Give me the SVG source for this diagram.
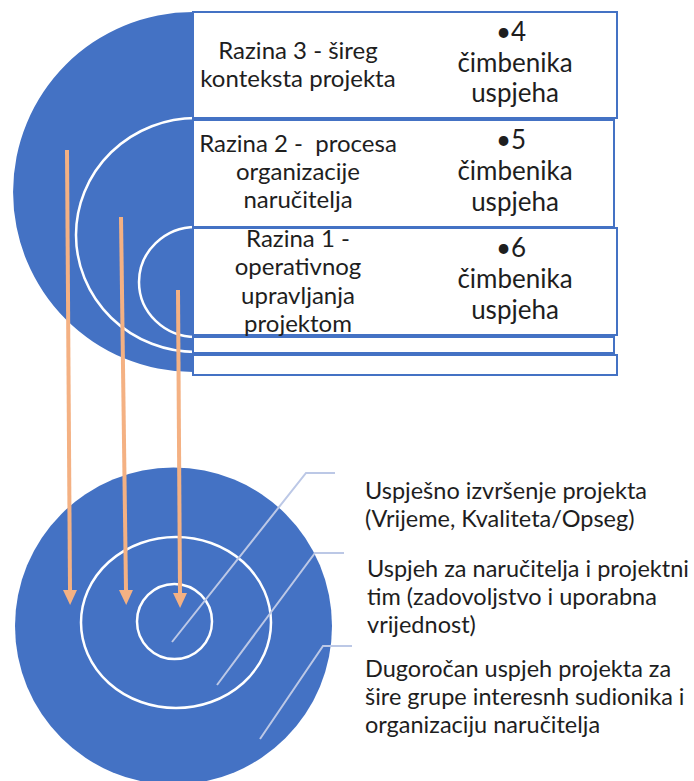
<svg xmlns="http://www.w3.org/2000/svg" width="694" height="781" viewBox="0 0 694 781">
  <style>
    .blue { fill: #4472C4; }
    .ring { fill: none; stroke: #FFFFFF; stroke-width: 2.5; }
    .box { fill: #FFFFFF; stroke: #4472C4; stroke-width: 2; }
    .t { font-family: Lato, "Open Sans", "Liberation Sans", sans-serif; fill: #1E1E1E; }
    .lc { font-size: 24px; text-anchor: middle; }
    .rc { font-size: 26px; text-anchor: middle; }
    .lab { font-size: 23.5px; }
    .arrow { stroke: #F4B183; stroke-width: 4; fill: none; marker-end: url(#ah); }
    .lead { stroke: #BCC8E6; stroke-width: 2; fill: none; }
  </style>
  <defs>
    <marker id="ah" markerUnits="userSpaceOnUse" markerWidth="15" markerHeight="14" refX="0" refY="7" orient="auto" viewBox="0 0 15 14">
      <path d="M0,0 L15,7 L0,14 Z" fill="#F4B183"/>
    </marker>
  </defs>
  <rect width="694" height="781" fill="#FFFFFF"/>

  <g id="top-rings">
    <path class="blue" d="M193,12 A180,180 0 0 0 193,372 Z"/>
    <path class="ring" d="M196,118 A120,117 0 0 0 196,352"/>
    <path class="ring" d="M196,227 A57,55 0 0 0 196,337"/>
  </g>

  <g id="row3">
    <rect class="box" x="193" y="12" width="424" height="106"/>
    <text class="t lc" x="298" y="59">Razina 3 - šireg</text>
    <text class="t lc" x="298" y="87">konteksta projekta</text>
    <text class="t rc" x="511" y="41">•4</text>
    <text class="t rc" x="515" y="72">čimbenika</text>
    <text class="t rc" x="515" y="102">uspjeha</text>
  </g>
  <g id="row2">
    <rect class="box" x="193" y="120" width="421" height="107"/>
    <text class="t lc" x="298" y="152" xml:space="preserve">Razina 2 -  procesa</text>
    <text class="t lc" x="298" y="180">organizacije</text>
    <text class="t lc" x="298" y="208">naručitelja</text>
    <text class="t rc" x="511" y="149">•5</text>
    <text class="t rc" x="515" y="180">čimbenika</text>
    <text class="t rc" x="515" y="211">uspjeha</text>
  </g>
  <g id="row1">
    <rect class="box" x="193" y="228" width="424" height="107"/>
    <text class="t lc" x="298" y="247">Razina 1 -</text>
    <text class="t lc" x="298" y="275">operativnog</text>
    <text class="t lc" x="298" y="304">upravljanja</text>
    <text class="t lc" x="298" y="332">projektom</text>
    <text class="t rc" x="511" y="257">•6</text>
    <text class="t rc" x="515" y="288">čimbenika</text>
    <text class="t rc" x="515" y="319">uspjeha</text>
  </g>
  <g id="row-empty-1">
    <rect class="box" x="193" y="337" width="421" height="16"/>
  </g>
  <g id="row-empty-2">
    <rect class="box" x="193" y="355" width="424" height="20"/>
  </g>

  <g id="target">
    <circle class="blue" cx="173.5" cy="626" r="158.5"/>
    <ellipse class="ring" cx="176" cy="622.5" rx="95" ry="85.5"/>
    <circle class="ring" cx="174.5" cy="621.5" r="37.5"/>
  </g>

  <g id="label-1">
    <text class="t lab" x="365" y="499">Uspješno izvršenje projekta</text>
    <text class="t lab" x="365" y="527">(Vrijeme, Kvaliteta/Opseg)</text>
  </g>
  <g id="label-2">
    <text class="t lab" x="367" y="577">Uspjeh za naručitelja i projektni</text>
    <text class="t lab" x="367" y="605">tim (zadovoljstvo i uporabna</text>
    <text class="t lab" x="367" y="633">vrijednost)</text>
  </g>
  <g id="label-3">
    <text class="t lab" x="365" y="677">Dugoročan uspjeh projekta za</text>
    <text class="t lab" x="365" y="705">šire grupe interesnh sudionika i</text>
    <text class="t lab" x="365" y="733">organizaciju naručitelja</text>
  </g>

  <g id="connectors">
    <line class="arrow" x1="67" y1="150" x2="70" y2="590"/>
    <line class="arrow" x1="121" y1="217" x2="126" y2="590"/>
    <line class="arrow" x1="178" y1="290" x2="180" y2="593"/>
    <polyline class="lead" points="172,642 306,473 335,473"/>
    <polyline class="lead" points="217,685 315,553 344,553"/>
    <polyline class="lead" points="260,739 323,646 352,646"/>
  </g>
</svg>
